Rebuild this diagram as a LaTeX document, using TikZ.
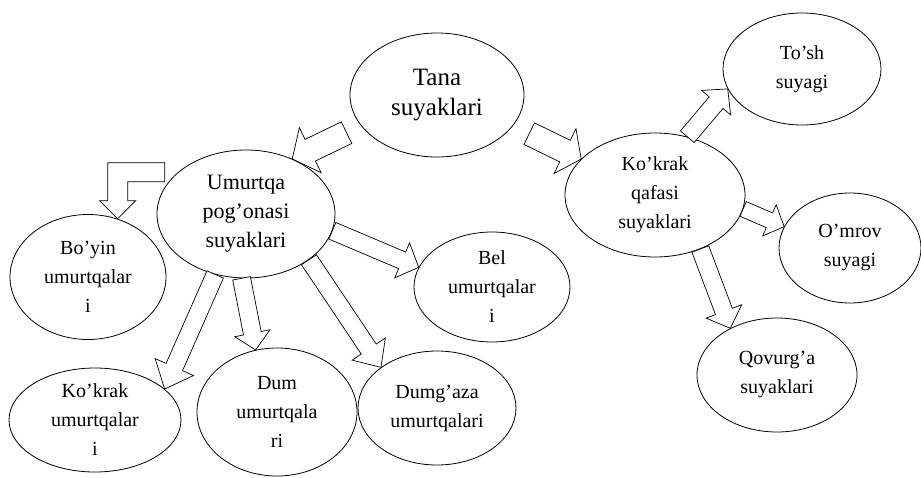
\documentclass[tikz,border=0pt]{standalone}
\usepackage{fontspec}
\setmainfont{Liberation Serif}
\usetikzlibrary{shapes.geometric,calc}
\tikzset{bone/.style={ellipse,
        draw = black,
        fill = white,
        line width = .8pt,
        inner sep = 0pt,
        align = center,
        font = \fontsize{20}{29}\selectfont}}
\tikzset{blk/.style={draw = black, fill = white, line width = .7pt, line join = miter}}
% #1 Anfang, #2 Spitze, #3 halbe Schaftbreite, #4 halbe Kopfbreite, #5 Kopflaenge
\newcommand{\blockarrow}[5]{%
    \coordinate (bh) at ($(#2)!#5pt!(#1)$);
    \draw[blk] ($(#1)!#3pt!90:(#2)$) -- ($(bh)!#3pt!90:(#2)$)
        -- ($(bh)!#4pt!90:(#2)$) -- (#2) -- ($(bh)!#4pt!-90:(#2)$)
        -- ($(bh)!#3pt!-90:(#2)$) -- ($(#1)!#3pt!-90:(#2)$) -- cycle;}

\begin{document}
\begin{tikzpicture}[x=1pt, y=-1pt]
    \useasboundingbox (0,0) rectangle (921,477);

    %Ellipsen
    \node[bone, minimum width = 174pt, minimum height = 124pt,
        font = \fontsize{25}{30}\selectfont] (tana) at (437,95) {Tana\\suyaklari};
    \node[bone, minimum width = 178pt, minimum height = 128pt,
        font = \fontsize{22}{29}\selectfont] (umurtqa) at (246,214) {Umurtqa\\pog’onasi\\suyaklari};
    \node[bone, minimum width = 156pt, minimum height = 125pt] (boyin) at (88,277) {Bo’yin\\umurtqalar\\i};
    \node[bone, minimum width = 172pt, minimum height = 104pt] (kokrak) at (95,420) {Ko’krak\\umurtqalar\\i};
    \node[bone, minimum width = 160pt, minimum height = 128pt] (dum) at (277,412) {Dum\\umurtqala\\ri};
    \node[bone, minimum width = 158pt, minimum height = 114pt] (dumgaza) at (437,408) {Dumg’aza\\umurtqalari};
    \node[bone, minimum width = 156pt, minimum height = 110pt] (bel) at (492,287) {Bel\\umurtqalar\\i};
    \node[bone, minimum width = 180pt, minimum height = 124pt] (qafas) at (655,195) {Ko’krak\\qafasi\\suyaklari};
    \node[bone, minimum width = 158pt, minimum height = 112pt] (tosh) at (802,69) {To’sh\\suyagi};
    \node[bone, minimum width = 142pt, minimum height = 110pt] (omrov) at (850,248) {O’mrov\\suyagi};
    \node[bone, minimum width = 160pt, minimum height = 114pt] (qovurga) at (777,375) {Qovurg’a\\suyaklari};

    %Pfeile
    \coordinate (ts1) at ($(tana.202)!16pt!(umurtqa.50)$);
    \coordinate (ts2) at ($(tana.338)!18pt!(qafas.154)$);
    \blockarrow{ts1}{umurtqa.50}{12}{25}{20}
    \blockarrow{ts2}{qafas.154}{12}{25}{18}
    \blockarrow{umurtqa.349}{bel.165}{9}{19}{18}
    \blockarrow{umurtqa.243}{kokrak.24}{9}{21}{24}
    \blockarrow{umurtqa.266}{dum.109}{9}{18}{17}
    \blockarrow{umurtqa.324}{dumgaza.144}{9}{20}{22}
    \blockarrow{qafas.61}{tosh.195}{9}{19}{18}
    \blockarrow{qafas.351}{omrov.162}{8}{17}{16}
    \blockarrow{qafas.310}{qovurga.135}{9}{19}{18}
    \draw[blk] (boyin.63) -- +(18,-18) -- +(10,-18) -- +(10,-37) -- +(47,-37)
        -- +(47,-56) -- +(-10,-56) -- +(-10,-18) -- +(-18,-18) -- cycle;

\end{tikzpicture}
\end{document}
